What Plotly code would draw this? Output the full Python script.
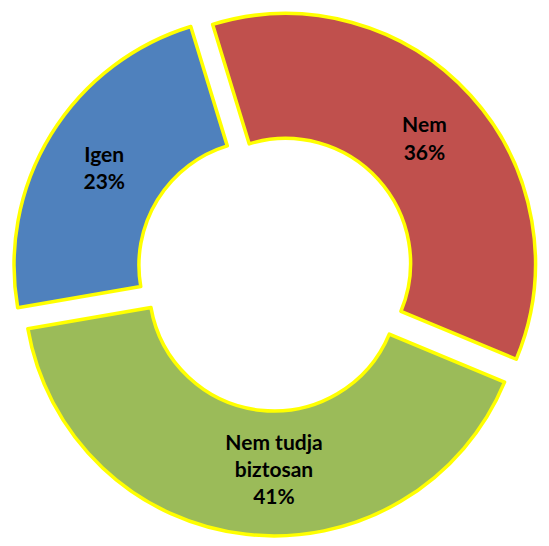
import plotly.graph_objects as go

# -- Data ---------------------------------------------------------------------
labels = ["Nem", "Nem tudja<br>biztosan", "Igen"]
values = [36, 41, 23]
colors = ["#C0504D", "#9BBB59", "#4F81BD"]

fig = go.Figure(go.Pie(
    labels=labels,
    values=values,
    sort=False,
    direction="clockwise",
    rotation=-17,
    hole=0.5,
    pull=[0.055, 0.055, 0.055],
    marker=dict(colors=colors, line=dict(color="#FFFF00", width=3.5)),
    texttemplate="<b>%{label}<br>%{percent:.0%}</b>",
    textposition="inside",
    insidetextorientation="horizontal",
    textfont=dict(family="Lato", size=21, color="#000000"),
    showlegend=False,
))

fig.update_layout(
    width=549, height=546,
    margin=dict(l=4, r=18, t=0, b=17),
    paper_bgcolor="white",
    plot_bgcolor="white",
)

fig.write_html("out.html")
